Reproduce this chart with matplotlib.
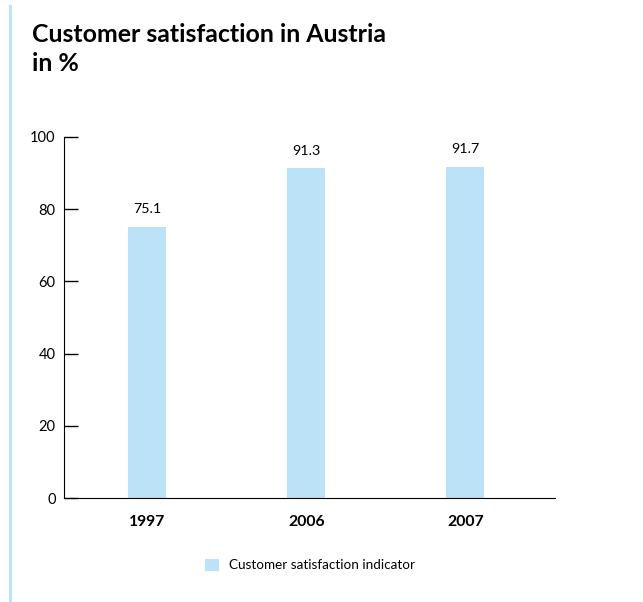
import matplotlib.pyplot as plt
from matplotlib.patches import Patch
from matplotlib.lines import Line2D

years = ["1997", "2006", "2007"]
satisfaction = [75.1, 91.3, 91.7]
value_labels = ["75.1", "91.3", "91.7"]
series_name = "Customer satisfaction indicator"

BAR_COLOR = "#bbe2f7"
FONT = ["Lato", "DejaVu Sans"]

fig = plt.figure(figsize=(6.43, 6.02), dpi=100)

# thin light blue rule down the left edge
fig.add_artist(Line2D([10 / 643, 10 / 643], [0, 1 - 6 / 602],
                      color=BAR_COLOR, lw=2.2, transform=fig.transFigure))

fig.text(32 / 643, 1 - 49 / 602, "Customer satisfaction in Austria\nin %",
         fontsize=17.9, fontweight="bold", family=FONT, va="center",
         ha="left", linespacing=1.35)

ax = fig.add_axes([64 / 643, 104 / 602, 491 / 643, 361 / 602])
x = range(len(years))
ax.bar(x, satisfaction, width=0.24, color=BAR_COLOR)

for i, v in enumerate(satisfaction):
    ax.annotate(value_labels[i], (i, v), xytext=(0, 8.5), textcoords="offset points",
                ha="center", va="bottom", fontsize=10.3, family=FONT)

ax.set_xlim(-0.522, 2.563)
ax.set_ylim(0, 100)
ax.set_yticks([0, 20, 40, 60, 80, 100])
ax.set_xticks(list(x))
ax.set_xticklabels(years, fontweight="bold", family=FONT, fontsize=11.3)
ax.tick_params(axis="x", length=0, pad=12)
ax.tick_params(axis="y", direction="in", length=10, width=1, pad=6, labelsize=10.5)
for lbl in ax.get_yticklabels():
    lbl.set_family(FONT)
ax.spines["top"].set_visible(False)
ax.spines["right"].set_visible(False)

handle = Patch(facecolor=BAR_COLOR, edgecolor="none")
fig.legend([handle], [series_name], loc="center left",
           bbox_to_anchor=(193 / 643, 1 - 565 / 602), frameon=False,
           handlelength=1.0, handleheight=1.0, handletextpad=0.8,
           prop={"family": FONT, "size": 9.7})

fig.savefig("out.png", dpi=100)
